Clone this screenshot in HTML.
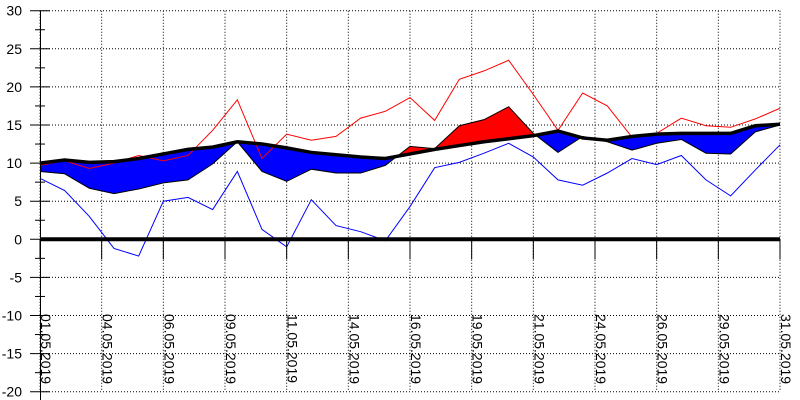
<!DOCTYPE html>
<html><head><meta charset="utf-8"><style>
body{margin:0;background:#fff;}
svg{display:block;font-family:"Liberation Sans",Arial,sans-serif;}
</style></head><body>
<svg id="chart" width="800" height="400" viewBox="0 0 800 400" xmlns="http://www.w3.org/2000/svg">
<defs>
<clipPath id="above"><polygon id="clipAbove" points=""/></clipPath>
<clipPath id="below"><polygon id="clipBelow" points=""/></clipPath>
</defs>
<g id="grid"></g>
<g id="fills"></g>
<g id="lines"></g>
<g id="axes"></g>
</svg>
<script>
const dateLabels=["01.05.2019","04.05.2019","06.05.2019","09.05.2019","11.05.2019","14.05.2019","16.05.2019","19.05.2019","21.05.2019","24.05.2019","26.05.2019","29.05.2019","31.05.2019"];
const yTicks=[30,25,20,15,10,5,0,-5,-10,-15,-20];
const maxTemp=[9.7,10.3,9.3,10.0,11.0,10.3,11.0,14.3,18.3,10.6,13.8,13.0,13.5,15.9,16.8,18.6,15.6,21.0,22.1,23.5,19.0,14.3,19.2,17.5,13.4,13.9,15.9,14.9,14.7,15.8,17.2];
const minTemp=[8.0,6.4,3.0,-1.2,-2.2,5.0,5.5,3.9,8.9,1.3,-1.0,5.2,1.8,1.0,-0.2,4.3,9.4,10.1,11.3,12.6,10.8,7.8,7.1,8.7,10.6,9.8,11.0,7.8,5.7,9.1,12.4];
const normTemp=[10.0,10.4,10.1,10.2,10.6,11.2,11.8,12.1,12.8,12.5,12.0,11.4,11.1,10.8,10.6,11.2,11.8,12.3,12.8,13.2,13.6,14.2,13.3,13.0,13.5,13.8,13.9,13.9,13.9,14.9,15.1];
const meanTemp=[8.9,8.6,6.7,6.0,6.6,7.4,7.8,9.9,12.8,8.9,7.6,9.2,8.7,8.7,9.7,12.2,11.9,14.9,15.7,17.4,13.9,11.4,13.5,12.8,11.7,12.6,13.1,11.3,11.2,14.1,15.0];

const X0=40,X1=780,Y0=239.3,PU=7.62;
const nDays=maxTemp.length;
const xs=i=>X0+(X1-X0)*i/(nDays-1);
const ys=v=>Y0-v*PU;
const NS="http://www.w3.org/2000/svg";
function mk(tag,attrs,parent){const e=document.createElementNS(NS,tag);for(const k in attrs)e.setAttribute(k,attrs[k]);parent.appendChild(e);return e;}
const grid=document.getElementById('grid'),fills=document.getElementById('fills'),lines=document.getElementById('lines'),axes=document.getElementById('axes');

yTicks.forEach(v=>{
  const g=mk('line',{x1:X0,x2:X1,y1:ys(v),y2:ys(v),stroke:'#000','stroke-width':1,'stroke-dasharray':'1,2'},grid);
  
  
  const t=mk('line',{x1:30,x2:50,y1:ys(v),y2:ys(v),stroke:'#000','stroke-width':1},axes);
  
  
  const m=mk('line',{x1:35,x2:45,y1:ys(v-2.5),y2:ys(v-2.5),stroke:'#000','stroke-width':1},axes);
  
  
  const l=mk('text',{x:22,y:ys(v)+5,'text-anchor':'end','font-size':14,fill:'#000'},axes);
  l.textContent=v;
  
  
});
dateLabels.forEach((d,i)=>{
  const x=X0+(X1-X0)*i/(dateLabels.length-1);
  const g=mk('line',{x1:x,x2:x,y1:ys(30),y2:ys(-20),stroke:'#000','stroke-width':1,'stroke-dasharray':'1,2'},grid);
  
  
  const t=mk('line',{x1:x,x2:x,y1:Y0,y2:Y0+20,stroke:'#000','stroke-width':1},axes);
  
  
  const l=mk('text',{x:0,y:0,'font-size':14,fill:'#000',transform:`translate(${x+1},314) rotate(90)`},axes);
  l.textContent=d;
  
  
});
const ax=mk('line',{x1:X0+0.5,x2:X0+0.5,y1:ys(30),y2:400,stroke:'#000','stroke-width':1},axes);



const normPts=normTemp.map((v,i)=>xs(i)+','+ys(v));
const meanPts=meanTemp.map((v,i)=>xs(i)+','+ys(v));
document.getElementById('clipAbove').setAttribute('points',normPts.join(' ')+` ${X1},0 ${X0},0`);
document.getElementById('clipBelow').setAttribute('points',normPts.join(' ')+` ${X1},400 ${X0},400`);
const areaPts=meanPts.join(' ')+' '+normPts.slice().reverse().join(' ');
const ra=mk('polygon',{points:areaPts,fill:'#ff0000',stroke:'#000','stroke-width':1,'clip-path':'url(#above)'},fills);


const ba=mk('polygon',{points:areaPts,fill:'#0000ff',stroke:'#000','stroke-width':1,'clip-path':'url(#below)'},fills);



const mx=mk('polyline',{points:maxTemp.map((v,i)=>xs(i)+','+ys(v)).join(' '),fill:'none',stroke:'#ff0000','stroke-width':1},lines);


const mn=mk('polyline',{points:minTemp.map((v,i)=>xs(i)+','+ys(v)).join(' '),fill:'none',stroke:'#0000ff','stroke-width':1},lines);


const nl=mk('polyline',{points:normPts.join(' '),fill:'none',stroke:'#000','stroke-width':3.5},lines);


const z=mk('line',{x1:X0,x2:X1,y1:Y0,y2:Y0,stroke:'#000','stroke-width':4},lines);


</script>
</body></html>
